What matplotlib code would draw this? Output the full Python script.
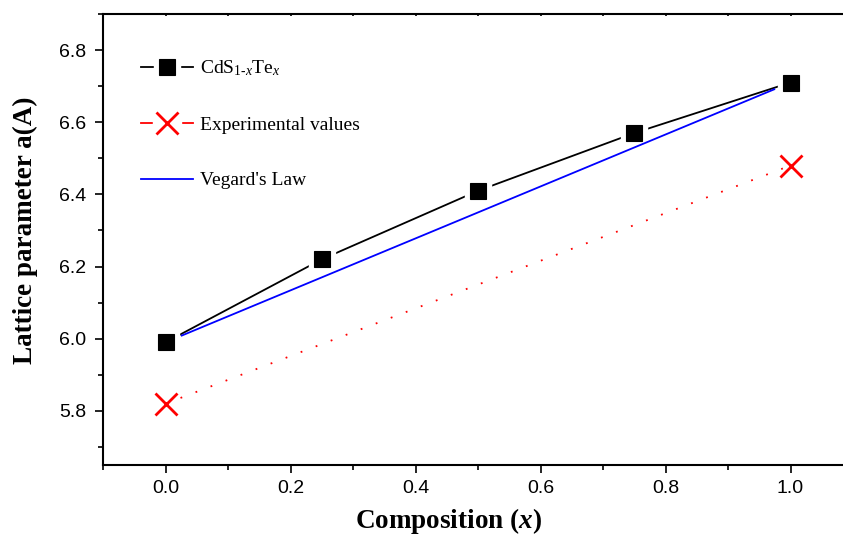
import matplotlib
matplotlib.use("Agg")
import matplotlib.pyplot as plt
from matplotlib.lines import Line2D
from matplotlib.ticker import MultipleLocator
import numpy as np

# Lattice parameter data for the CdS(1-x)Te(x) alloy
composition = [0.0, 0.25, 0.5, 0.75, 1.0]
lattice_calc = [5.99, 6.22, 6.41, 6.57, 6.71]

exp_composition = [0.0, 1.0]
lattice_exp = [5.82, 6.48]

vegard_composition = [0.0, 1.0]
vegard_lattice = [5.99, 6.71]

x_ticks = [0.0, 0.2, 0.4, 0.6, 0.8, 1.0]
y_ticks = [5.8, 6.0, 6.2, 6.4, 6.6, 6.8]

plt.rcParams['mathtext.fontset'] = 'custom'
plt.rcParams['mathtext.rm'] = 'Liberation Serif'
plt.rcParams['mathtext.it'] = 'Liberation Serif:italic'
plt.rcParams['mathtext.bf'] = 'Liberation Serif:bold:italic'

W, H = 843, 539
fig = plt.figure(figsize=(W / 100, H / 100), dpi=100)
left, right, bottom, top = 103, 853, 465, 14
ax = fig.add_axes([left / W, (H - bottom) / H, (right - left) / W, (bottom - top) / H])

ax.set_xlim(-0.1, 1.1)
ax.set_ylim(5.65, 6.9)

# Vegard's law line, stopped short of the end markers
vx = np.array(vegard_composition, dtype=float)
vy = np.array(vegard_lattice, dtype=float)
trim = 0.026
vx_t = vx[0] + (vx[1] - vx[0]) * np.array([trim, 1 - trim])
vy_t = vy[0] + (vy[1] - vy[0]) * np.array([trim, 1 - trim])
ax.plot(vx_t, vy_t, color='#0000ff', lw=1.3, zorder=3.5)

# Calculated values
ax.plot(composition, lattice_calc, color='black', lw=1.3, zorder=2)
# white halo squares give the gap between line and marker
ax.plot(composition, lattice_calc, ls='none', marker='s', ms=19, mfc='white', mec='white', zorder=3)
ax.plot(composition, lattice_calc, ls='none', marker='s', ms=11, mfc='black', mec='black',
        mew=0.8, zorder=4)
# Experimental values
ax.plot(exp_composition, lattice_exp, color='red', lw=1.3, ls=(0, (1, 7.9)), zorder=2)
ax.plot(exp_composition, lattice_exp, ls='none', marker='x', ms=16, mec='red', mew=2.0, zorder=4)

ax.set_xticks(x_ticks)
ax.set_yticks(y_ticks)
ax.xaxis.set_minor_locator(MultipleLocator(0.1))
ax.yaxis.set_minor_locator(MultipleLocator(0.1))
ax.set_xticklabels([f"{v:.1f}" for v in x_ticks])
ax.set_yticklabels([f"{v:.1f}" for v in y_ticks])

for s in ['left', 'bottom', 'top']:
    ax.spines[s].set_linewidth(1.5)
ax.spines['right'].set_visible(False)

ax.tick_params(axis='both', which='major', direction='out', length=6, width=1.2, labelsize=14)
ax.tick_params(axis='both', which='minor', direction='out', length=3.5, width=1.2)
ax.tick_params(axis='x', which='major', pad=5)
ax.tick_params(axis='y', which='major', pad=6)
ax.tick_params(axis='x', which='both', top=True, labeltop=False)
for lbl in ax.get_xticklabels() + ax.get_yticklabels():
    lbl.set_fontfamily('Liberation Sans')
# small inward marks on the top spine
for t in ax.xaxis.get_major_ticks() + ax.xaxis.get_minor_ticks():
    t.tick2line.set_markersize(1.5)
    t.tick2line.set_marker(3)

ax.set_xlabel(r'Composition ($\mathbf{x}$)', fontfamily='Liberation Serif', fontweight='bold',
              fontsize=19.5)
ax.set_ylabel('Lattice parameter a(A)', fontfamily='Liberation Serif', fontweight='bold',
              fontsize=19.5)
ax.xaxis.set_label_coords(0.46, -0.0, transform=ax.transAxes)
ax.xaxis.label.set_verticalalignment('baseline')
ax.xaxis.set_label_coords(0.46, -(528 - 465) / (465 - 14))
ax.yaxis.set_label_coords(-(103 - 25) / (853 - 103), (465 - 230.5) / (465 - 14))
ax.yaxis.label.set_verticalalignment('center')

# Legend
h_calc = (Line2D([], [], color='black', lw=1.3),
          Line2D([], [], ls='none', marker='s', ms=19, mfc='white', mec='white'),
          Line2D([], [], ls='none', marker='s', ms=11, mfc='black', mec='black', mew=0.8))
h_exp = (Line2D([], [], color='red', lw=1.3),
         Line2D([], [], ls='none', marker='s', ms=20, mfc='white', mec='white'),
         Line2D([], [], ls='none', marker='x', ms=16, mec='red', mew=2.0))
h_veg = Line2D([], [], color='#0000ff', lw=1.3)
leg = ax.legend([h_calc, h_exp, h_veg],
                [r'CdS$_{\mathrm{1\text{-}}x}$Te$_{x}$', 'Experimental values', "Vegard's Law"],
                loc='upper left', bbox_to_anchor=(0.027, 0.94), frameon=False,
                prop={'family': 'Liberation Serif', 'size': 14},
                handlelength=2.7, handletextpad=0.35, labelspacing=1.95)

fig.savefig('out.png', dpi=100)
